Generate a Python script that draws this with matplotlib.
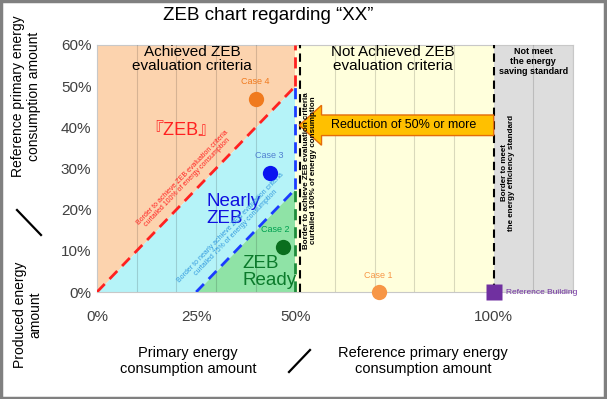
import matplotlib
matplotlib.use("Agg")
import matplotlib.pyplot as plt
import matplotlib.patches as mpatches
import matplotlib.transforms as mtransforms
from matplotlib.lines import Line2D
import numpy as np

plt.rcParams['font.family'] = ['Liberation Sans', 'Noto Sans CJK JP', 'DejaVu Sans']

# data
CASE_NAMES = ["Case 1", "Case 2", "Case 3", "Case 4"]
CASE_X = [0.71, 0.47, 0.435, 0.40]      # primary energy / reference
CASE_Y = [0.0, 0.11, 0.29, 0.47]        # produced energy / reference
CASE_COLORS = ["#F79646", "#0A6E1E", "#0A14F0", "#F07A1E"]
CASE_LABEL_COLORS = ["#F79646", "#00A050", "#4F7FD0", "#F07A1E"]
CASE_LABEL_DX = [0, -6, 0, 0]
REF_X, REF_Y = 1.0, 0.0
ZEB_X = 0.5          # 50% reduction border
NEARLY_OFFSET = 0.25  # 75% curtailed line: y = x - 0.25
X_MAX, Y_MAX = 1.2, 0.6
XTICKS = [0, 0.25, 0.5, 1.0]
XTICK_LABELS = ["0%", "25%", "50%", "100%"]
YTICKS = [0, 0.1, 0.2, 0.3, 0.4, 0.5, 0.6]
YTICK_LABELS = ["0%", "10%", "20%", "30%", "40%", "50%", "60%"]

fig = plt.figure(figsize=(6.07, 3.99), dpi=100)
ax = fig.add_axes([97 / 607, 1 - 292 / 399, 476 / 607, 247 / 399])
ax.set_xlim(0, X_MAX)
ax.set_ylim(0, Y_MAX)

# region fills
ax.fill_between([0, ZEB_X], [0, ZEB_X], [Y_MAX, Y_MAX], color="#FCD3AE", lw=0, zorder=0)
ax.fill_between([0, NEARLY_OFFSET, ZEB_X], [0, 0, ZEB_X - NEARLY_OFFSET],
                [0, NEARLY_OFFSET, ZEB_X], color="#B5F3F8", lw=0, zorder=0)
ax.fill_between([NEARLY_OFFSET, ZEB_X], [0, 0], [0, ZEB_X - NEARLY_OFFSET],
                color="#8FE3A6", lw=0, zorder=0)
ax.axvspan(ZEB_X, REF_X, color="#FFFFDC", lw=0, zorder=0)
ax.axvspan(REF_X, X_MAX, color="#DDDDDD", lw=0, zorder=0)

# grid every 10%
ax.set_xticks(np.arange(0, X_MAX + 0.01, 0.1), minor=True)
ax.set_yticks(np.arange(0, Y_MAX + 0.01, 0.1), minor=True)
ax.grid(which="minor", color="#000000", alpha=0.15, lw=0.8, zorder=1)
ax.set_axisbelow(False)

ax.set_xticks(XTICKS)
ax.set_xticklabels(XTICK_LABELS)
ax.set_yticks(YTICKS)
ax.set_yticklabels(YTICK_LABELS)
ax.tick_params(which="both", length=0, labelsize=11, labelcolor="#404040")
ax.tick_params(axis="x", pad=13)
ax.tick_params(axis="y", pad=4)
for s in ax.spines.values():
    s.set_color("#C8C8C8")
    s.set_linewidth(0.8)

# border lines
dash = (0, (4, 2.5))
ax.plot([0, ZEB_X], [0, ZEB_X], color="#FF2020", lw=2, ls=dash, zorder=3)
ax.plot([ZEB_X, ZEB_X], [ZEB_X, Y_MAX], color="#FF2020", lw=2, ls=dash, zorder=3)
ax.plot([NEARLY_OFFSET, ZEB_X], [0, ZEB_X - NEARLY_OFFSET], color="#1A3CFF", lw=2, ls=dash, zorder=3)
ax.plot([ZEB_X, ZEB_X], [ZEB_X - NEARLY_OFFSET, ZEB_X], color="#1A3CFF", lw=2, ls=dash, zorder=3)
ax.plot([ZEB_X, ZEB_X], [0, ZEB_X - NEARLY_OFFSET], color="#1E8C3A", lw=2, ls=dash, zorder=3)
shift = ax.transData + mtransforms.ScaledTranslation(3 / 72, 0, fig.dpi_scale_trans)
ax.plot([ZEB_X, ZEB_X], [0, Y_MAX], color="black", lw=1.5, ls=dash, zorder=3, transform=shift)
ax.plot([REF_X, REF_X], [0, Y_MAX], color="black", lw=1.5, ls=dash, zorder=3)

# reduction arrow
arrow = mpatches.FancyArrow(REF_X, 0.405, ZEB_X - REF_X + 0.01, 0, width=0.05, head_width=0.097,
                            head_length=0.056, length_includes_head=True,
                            fc="#FFC000", ec="#E46C0A", lw=1, zorder=4)
ax.add_patch(arrow)
ax.text(0.773, 0.405, "Reduction of 50% or more", fontsize=9, ha="center", va="center", zorder=5)

# region titles
ax.text(0.24, 0.565, "Achieved ZEB\nevaluation criteria", fontsize=11, ha="center", va="center",
        linespacing=1.0, zorder=5)
ax.text(0.745, 0.565, "Not Achieved ZEB\nevaluation criteria", fontsize=11, ha="center", va="center",
        linespacing=1.0, zorder=5)
ax.text(1.1, 0.56, "Not meet\nthe energy\nsaving standard", fontsize=6.5, fontweight="bold",
        ha="center", va="center", linespacing=1.1, zorder=5)

ax.text(0.21, 0.393, "『ZEB』", fontsize=13, color="#FF2020", ha="center", va="center", zorder=5)
ax.text(0.275, 0.199, "Nearly\nZEB", fontsize=13.5, color="#1010E0", ha="left", va="center",
        linespacing=1.0, zorder=5)
ax.text(0.366, 0.049, "ZEB\nReady", fontsize=13.5, color="#0B7A2B", ha="left", va="center",
        linespacing=1.0, zorder=5)

ax.text(0.222, 0.272, "Border to achieve ZEB evaluation criteria\ncurtailed 100% of energy consumption",
        fontsize=5, color="#FF2020", rotation=46, ha="center", va="center", linespacing=1.0, zorder=5)
ax.text(0.343, 0.15, "Border to nearly achieve ZEB evaluation criteria\ncurtailed 75% of energy consumption",
        fontsize=5, color="#3399DD", rotation=46, ha="center", va="center", linespacing=1.0, zorder=5)
ax.text(0.538, 0.296, "Border to achieve ZEB evaluation criteria\ncurtailed 100% of energy consumption",
        fontsize=5.8, fontweight="bold", rotation=90, ha="center", va="center", linespacing=1.0, zorder=5)
ax.text(1.035, 0.29, "Border to meet\nthe energy efficiency standard",
        fontsize=5.8, fontweight="bold", rotation=90, ha="center", va="center", linespacing=1.0, zorder=5)

# cases
for name, x, y, c, lc, dx in zip(CASE_NAMES, CASE_X, CASE_Y, CASE_COLORS, CASE_LABEL_COLORS, CASE_LABEL_DX):
    ax.plot(x, y, "o", ms=11, color=c, mec="none", zorder=6, clip_on=False)
    ax.annotate(name, (x, y), xytext=(dx, 9), textcoords="offset points", fontsize=6.5,
                color=lc, ha="center", va="bottom", zorder=7, annotation_clip=False)
ax.plot(REF_X, REF_Y, "s", ms=12, color="#7030A0", mec="none", zorder=6, clip_on=False)
ax.annotate("Reference Building", (REF_X, REF_Y), xytext=(9, 0), textcoords="offset points",
            fontsize=6, color="#7030A0", ha="left", va="center", zorder=6, annotation_clip=False)

# title and axis captions
fig.text(268 / 607, 1 - 16 / 399, "ZEB chart regarding “XX”", fontsize=13.5, ha="center", va="center")
fig.text(26 / 607, 1 - 96 / 399, "Reference primary energy\nconsumption amount", fontsize=10,
         rotation=90, ha="center", va="center", linespacing=1.1)
fig.text(28 / 607, 1 - 315 / 399, "Produced energy\namount", fontsize=10,
         rotation=90, ha="center", va="center", linespacing=1.1)
fig.text(188 / 607, 1 - 361 / 399, "Primary energy\nconsumption amount", fontsize=10.5,
         ha="center", va="center", linespacing=1.1)
fig.text(423 / 607, 1 - 361 / 399, "Reference primary energy\nconsumption amount", fontsize=10.5,
         ha="center", va="center", linespacing=1.1)
fig.add_artist(Line2D([17 / 607, 41 / 607], [1 - 210 / 399, 1 - 235 / 399], color="black", lw=1.6))
fig.add_artist(Line2D([289 / 607, 310 / 607], [1 - 372 / 399, 1 - 350 / 399], color="black", lw=1.6))

# outer frame
fig.add_artist(mpatches.Rectangle((0.002, 0.003), 0.995, 0.994, transform=fig.transFigure,
                                  fill=False, ec="#808080", lw=2.5))

fig.savefig("out.png", dpi=100)
